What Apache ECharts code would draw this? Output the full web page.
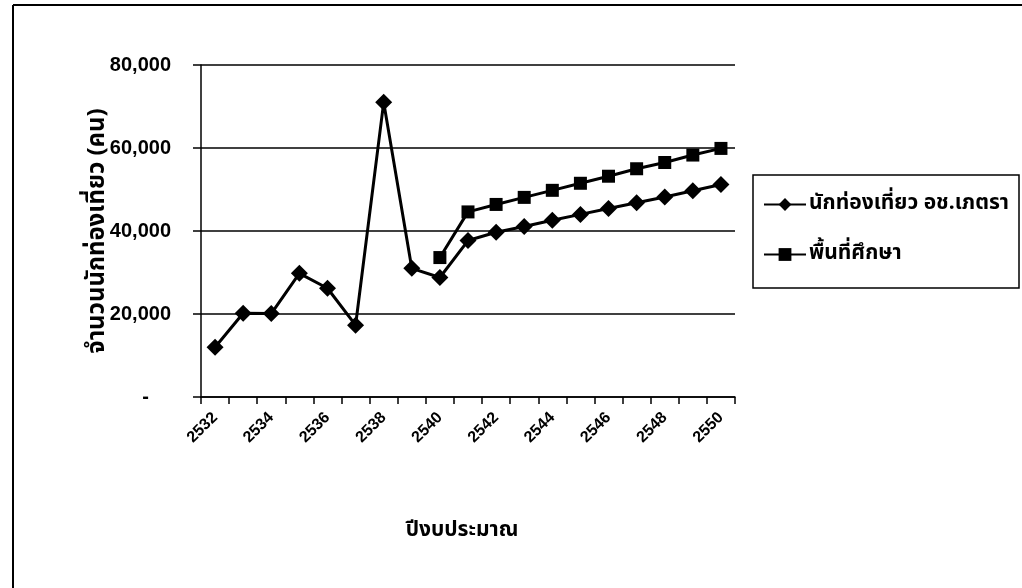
<!DOCTYPE html>
<html><head><meta charset="utf-8">
<script src="https://cdn.jsdelivr.net/npm/echarts@6/dist/echarts.min.js"></script>
<style>html,body{margin:0;padding:0;background:#fff}#c{width:1022px;height:588px}</style>
</head><body><div id="c"></div>
<script>
const years = ['2532','2533','2534','2535','2536','2537','2538','2539','2540','2541','2542','2543','2544','2545','2546','2547','2548','2549','2550'];
const tourists = [12000,20200,20100,29800,26200,17300,71000,31000,28800,37700,39700,41100,42600,44000,45400,46800,48200,49700,51200];
const studyArea = [null,null,null,null,null,null,null,null,33600,44600,46400,48100,49800,51500,53200,55000,56500,58300,59900];
const yTicks = {min:0, max:80000, interval:20000};
const names = ['นักท่องเที่ยว อช.เภตรา','พื้นที่ศึกษา'];
const xTitle = 'ปีงบประมาณ';
const yTitle = 'จำนวนนักท่องเที่ยว (คน)';

const chart = echarts.init(document.getElementById('c'));
const thai = '"Noto Sans Thai","Noto Sans","DejaVu Sans",sans-serif';
chart.setOption({
  animation:false,
  backgroundColor:'#fff',
  grid:{left:201,right:287,top:65,bottom:191,containLabel:false},
  graphic:[
    {type:'line',shape:{x1:13,y1:5,x2:1022,y2:5},style:{stroke:'#000',lineWidth:2}},
    {type:'line',shape:{x1:13,y1:5,x2:13,y2:588},style:{stroke:'#000',lineWidth:2}},
    {type:'rect',shape:{x:753,y:175,width:266,height:113},style:{fill:'none',stroke:'#000',lineWidth:1.5}},
    {type:'text',x:99,y:231,rotation:Math.PI/2,
     style:{text:yTitle,font:'bold 24px '+thai,fill:'#000',align:'center',verticalAlign:'middle'}}
  ],
  legend:{
    orient:'vertical',left:753,top:175,padding:[19,10,20,10],itemGap:29,
    itemWidth:42,itemHeight:16,
    textStyle:{fontFamily:thai,fontSize:21,fontWeight:'bold',color:'#000',padding:[0,0,0,-2]},
    data:names
  },
  xAxis:{
    type:'category',data:years,boundaryGap:true,
    name:xTitle,nameLocation:'middle',nameGap:124,
    nameTextStyle:{fontFamily:thai,fontSize:21,fontWeight:'bold',color:'#000',padding:[0,12,0,0]},
    axisLine:{lineStyle:{color:'#000',width:1.5}},
    axisTick:{show:true,alignWithLabel:false,interval:0,length:7,lineStyle:{color:'#000',width:1.5}},
    axisLabel:{interval:1,rotate:45,fontFamily:'Liberation Sans, Arial, sans-serif',fontSize:16,fontWeight:'bold',color:'#000',margin:18},
    splitLine:{show:false}
  },
  yAxis:{
    type:'value',min:yTicks.min,max:yTicks.max,interval:yTicks.interval,
    axisLine:{show:true,lineStyle:{color:'#000',width:1.5}},
    axisTick:{show:true,length:8,lineStyle:{color:'#000',width:1.5}},
    axisLabel:{
      margin:30,color:'#000',fontFamily:'Liberation Sans, Arial, sans-serif',fontSize:20,fontWeight:'bold',
      formatter:function(v){return v===0?'{d|-}':v.toLocaleString('en-US');},
      rich:{d:{fontSize:20,fontWeight:'bold',padding:[0,22,0,0],color:'#000'}}
    },
    splitLine:{show:true,lineStyle:{color:'#000',width:1.5}}
  },
  series:[
    {name:names[0],type:'line',data:tourists,symbol:'diamond',symbolSize:17,
     lineStyle:{color:'#000',width:3},itemStyle:{color:'#000'},connectNulls:false},
    {name:names[1],type:'line',data:studyArea,symbol:'rect',symbolSize:13,
     lineStyle:{color:'#000',width:3},itemStyle:{color:'#000'},connectNulls:false}
  ]
});
</script></body></html>
